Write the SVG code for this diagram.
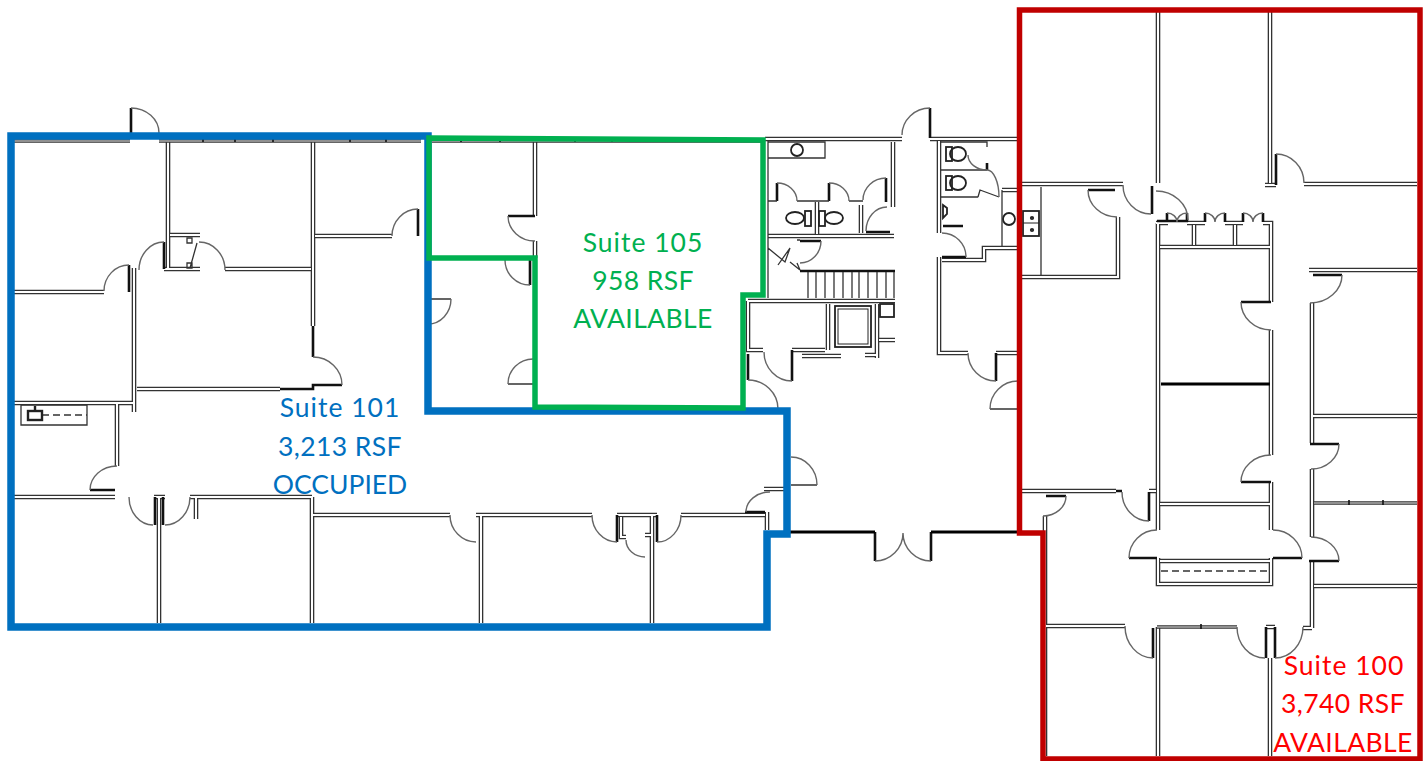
<svg xmlns="http://www.w3.org/2000/svg" width="1427" height="761" viewBox="0 0 1427 761">
<style>
.wo{fill:none;stroke:#333;stroke-width:4.6}
.wi{fill:none;stroke:#fff;stroke-width:2}
.to{fill:none;stroke:#333;stroke-width:3.6}
.ti{fill:none;stroke:#eee;stroke-width:1.2}
.th{fill:none;stroke:#111;stroke-width:2.6}
.bl{fill:none;stroke:#000;stroke-width:3.2}
.ln{fill:none;stroke:#333;stroke-width:1.3}
.arc{fill:none;stroke:#666;stroke-width:1.4}
.fx{fill:none;stroke:#222;stroke-width:1.8}
.suite{fill:none;stroke-linejoin:miter}
.lab{font-family:"Lato","Liberation Sans",sans-serif;font-size:26.5px;text-anchor:middle}
.s1{letter-spacing:1px}
.s2{letter-spacing:.4px}
</style>
<defs>
<path id="walls" d="M168 141V268M134 268V412M14 292H104M14 403H134M117 403V466M159 497V623M196 497V519M312 497V623M313 515H450M481 515V623M476 515H592M617 515H657M681 515H765M652 516V623M621 517V537H626M645 535H652M767 512V530M764 489H784M14 497H115M154 497H165M190 497H312M315 236H392M225 269H311M137 389H280M170 235H200M164 269H200M313 141V326M535 141V216M535 241V258M765 139H902M930 139H1018M893 142V207M768 236H894M861 205V233M817 202V234M939 141V233M942 260H984V248H1018M939 257V353H968M996 353H1018M748 301H895M748 301V350H763M792 350H825M828 304V350M877 304V358M865 355H877M879 340H895M802 356H841M1158 12V183M1270 12V183M1022 184H1123M1265 185H1276M1304 184H1417M1022 277H1118V217M1158 223V530M1156 223H1168M1187 223H1205M1225 223H1243M1263 223H1271V302M1160 247H1270M1194 225V245M1235 225V245M1309 270H1417M1312 303V443M1271 330V455M1271 482V530M1313 416H1417M1312 469V537M1160 504H1270M1022 491H1116M1045 516V756M1158 558V584H1271V558M1312 561V628M1314 586H1417M1046 626H1125M1158 627V756M1270 658V756M1266 627H1275M1303 628H1312M1160 561H1270M1149 491H1156M1002 190H1018"/>
<path id="tops" d="M14 141H130M159 141H421M432 141H762M1314 503H1417M1157 627H1237"/>
</defs>
<g id="plan">
<use href="#walls" class="wo"/><use href="#walls" class="wi"/>
<use href="#tops" class="to"/><use href="#tops" class="ti"/>
<path id="thick-leaves" class="th" d="M131 108V133M164 242V269M129 265V292M418 209V236M313 326V357M342 385H313V389H280M90 490H115M155 497V525M163 497V525M617 515V542M657 515V542M745 512H765M508 216H535M530 260V285M930 108V138M777 183V201M829 183V201M886 178V202M866 232H890M800 241H821M792 350V381M748 354V380M987 163V170M943 226H963M942 257H966M996 353V381M1088 190H1115M1152 186V214M1157 221H1188M1241 302H1271M1241 482H1271M1276 154V185M1313 275H1342M1310 444H1339M1149 492V521M1046 496H1066M1129 558H1157M1273 558H1302M1309 561H1339M1153 628V658M1266 627V658M1275 627V658M1116 491H1122M1205 213V222M1225 213V222M1243 213V222M1263 213V222M1167 213V222M1187 213V222M875 532V561M931 532V561M800 271H895"/>
<path id="exterior" class="bl" d="M790 532H875M931 532H1018M1161 384H1270"/>
<path id="thin" class="ln" d="M508 384H533M428 299H451M791 485H817M990 409H1018M768 141V298M768 142H825V158H768M768 201H777M797 201H829M849 201H863M941 142H987V147M1002 190V247M1041 187V276M978 197H941M978 197L980 190L999 197M197 243L190 268M187 238h5v5h-5zM187 263h5v5h-5zM797 240H800M797 263L800 270M768 248L785 262L790 248L778 265M790 262L800 270M808 272V298M816 272V298M825 272V298M834 272V298M843 272V298M852 272V298M859 272V298M868 272V298M877 272V298M886 272V298M894 272V298M941 170H987M21 405H87V425H21V405"/>
<path id="dash" class="ln" stroke-dasharray="7 4" d="M1161 571H1270M42 415H87"/>
<path id="ticks" d="M203 138v4M235 138v4M273 138v4M350 138v4M386 138v4M461 138v4M500 138v4M575 138v4M612 138v4M650 138v4M688 138v4M726 138v4M1349 500v5M1383 500v5M1201 624v5" stroke="#111" stroke-width="1.6" fill="none"/>
<path id="swings" class="arc" d="M131 108A28 25 0 0 1 159 133M164 242A25 28 0 0 0 139 270M199 242A26 28 0 0 1 225 270M104 291A25 26 0 0 1 129 265M392 236A26 27 0 0 1 418 209M313 357A29 28 0 0 1 342 385M117 466A27 24 0 0 0 90 490M129 497A24 28 0 0 0 153 525M165 525A25 28 0 0 0 190 497M450 515A26 27 0 0 0 476 542M592 515A25 27 0 0 0 617 542M657 542A24 27 0 0 0 681 515M626 540A19 17 0 0 0 645 557M746 512A24 20 0 0 1 770 492M791 457A26 28 0 0 1 817 485M875 561A28 28 0 0 0 903 533M903 533A28 28 0 0 0 931 561M508 216A27 25 0 0 0 535 241M505 260A25 25 0 0 0 530 285M451 299A23 25 0 0 1 428 324M508 384A25 25 0 0 1 533 359M902 135A28 27 0 0 1 930 108M777 183A20 18 0 0 1 797 201M829 183A20 18 0 0 1 849 201M863 200A23 22 0 0 1 886 178M866 231A21 24 0 0 1 887 207M821 241A21 22 0 0 1 800 263M764 352A28 29 0 0 0 792 381M748 380A30 29 0 0 1 778 409M968 155A19 15 0 0 0 987 170M987 170A12 27 0 0 1 999 197M942 233A24 24 0 0 1 966 257M968 353A28 28 0 0 0 996 381M1018 381A28 28 0 0 0 990 409M1088 190A29 27 0 0 0 1117 217M1123 185A28 29 0 0 0 1151 214M1156 191A32 29 0 0 1 1188 220M1167 213A10 9 0 0 1 1177 222M1187 213A10 9 0 0 0 1177 222M1205 213A10 9 0 0 1 1215 222M1225 213A10 9 0 0 0 1215 222M1243 213A10 9 0 0 1 1253 222M1263 213A10 9 0 0 0 1253 222M1276 154A28 29 0 0 1 1304 183M1342 275A32 28 0 0 1 1310 303M1241 302A30 28 0 0 0 1271 330M1271 455A30 27 0 0 0 1241 482M1339 444A28 25 0 0 1 1311 469M1122 492A27 29 0 0 0 1149 521M1066 496A23 20 0 0 1 1043 516M1157 530A28 28 0 0 0 1129 558M1273 530A29 28 0 0 1 1302 558M1311 537A28 24 0 0 1 1339 561M1125 626A28 32 0 0 0 1153 658M1237 627A28 31 0 0 0 1265 658M1275 658A28 31 0 0 0 1303 627"/>
<g id="fixtures" class="fx">
<circle cx="797" cy="150" r="6"/>
<circle cx="1009" cy="219" r="6"/>
<ellipse cx="795" cy="218" rx="9" ry="6"/><rect x="805" y="211" width="6" height="15"/>
<ellipse cx="834" cy="218" rx="9" ry="6"/><rect x="819" y="211" width="6" height="15"/>
<ellipse cx="958" cy="154" rx="8" ry="7"/><rect x="946" y="147" width="6" height="14"/>
<ellipse cx="958" cy="183" rx="8" ry="7"/><rect x="946" y="176" width="6" height="14"/>
<path d="M943 205L947 208L947 214L943 218Z"/>
<rect x="880" y="304" width="14" height="13"/>
<rect x="835" y="306" width="36" height="41"/>
<rect x="838" y="309" width="30" height="35" stroke-width="1"/>
<rect x="28" y="411" width="14" height="9" stroke-width="2.4"/>
<path d="M35 406V411" stroke-width="2.4"/>
<rect x="1023" y="211" width="16" height="25"/>
<path d="M1023 223H1039" stroke-width="1"/>
<circle cx="1032" cy="218" r="1.2"/><circle cx="1032" cy="230" r="1.2"/>
</g>
</g>
<g id="suite-101"><path class="suite" stroke="#0070c0" stroke-width="7.5" d="M11 136H428V411H787V534H767V627H11Z"/></g>
<g id="suite-105"><path class="suite" stroke="#00b050" stroke-width="5.5" d="M429 138L763 140V295H743V408L535 407V258H429Z"/></g>
<g id="suite-100"><path class="suite" stroke="#c00000" stroke-width="5.5" d="M1019.5 10H1420V759H1043V533H1019.5Z"/></g>
<g id="labels" class="lab">
<text x="340" y="417" fill="#0070c0" class="s1">Suite 101</text>
<text x="340" y="455.5" fill="#0070c0" class="s2">3,213 RSF</text>
<text x="340" y="494" fill="#0070c0">OCCUPIED</text>
<text x="643" y="252" fill="#00b050" class="s1">Suite 105</text>
<text x="643" y="290" fill="#00b050" class="s2">958 RSF</text>
<text x="643" y="328" fill="#00b050" class="s2">AVAILABLE</text>
<text x="1344" y="675" fill="#ff0000" class="s1">Suite 100</text>
<text x="1343" y="713" fill="#ff0000" class="s2">3,740 RSF</text>
<text x="1343" y="751.5" fill="#ff0000" class="s2">AVAILABLE</text>
</g>
</svg>
